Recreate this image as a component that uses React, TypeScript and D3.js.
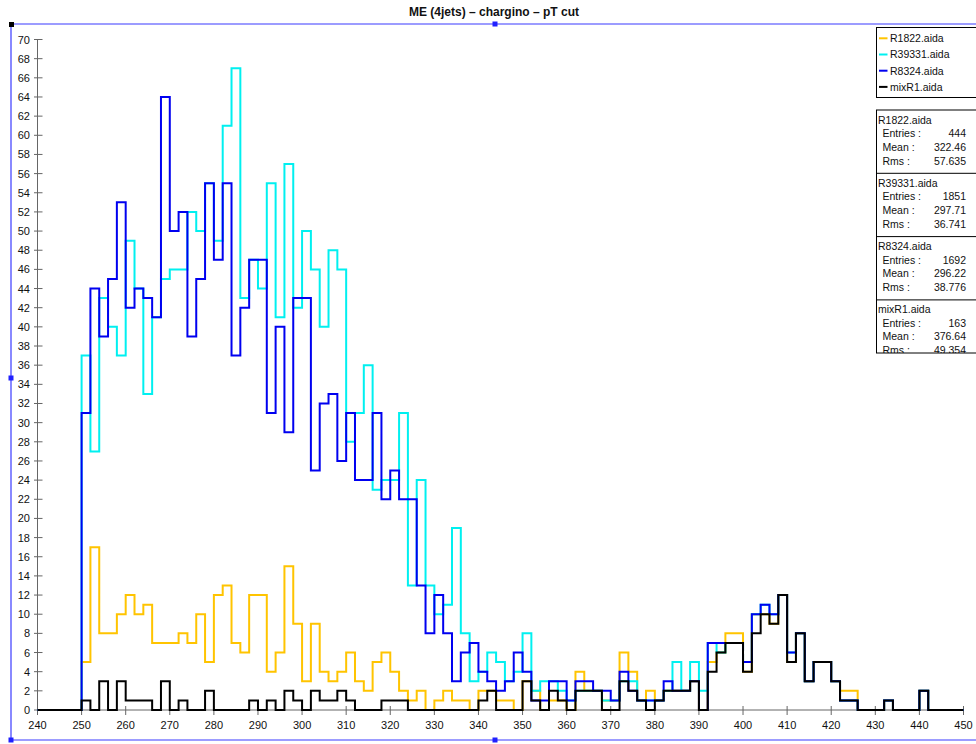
import React from 'react';
import * as d3 from 'd3';

// histogram bins: 240..450, width 2 (first five bins empty)
const BIN_START = 240;
const BIN_WIDTH = 2;

const r1822 = [
  0, 0, 0, 0, 0,
  5, 17, 8, 8, 10, 12, 10, 11, 7, 7, 7, 8, 7, 10, 5, 12, 13, 7, 6, 12,
  12, 4, 6, 15, 9, 3, 9, 4, 3, 4, 6, 3, 2, 5, 6, 4, 2, 1, 2, 0,
  1, 2, 1, 1, 0, 2, 2, 1, 1, 0, 3, 2, 0, 1, 1, 0, 4, 2, 2, 1,
  1, 6, 4, 1, 2, 1, 2, 2, 2, 3, 0, 5, 6, 8, 8, 4, 10, 10, 9, 12,
  5, 8, 3, 5, 5, 3, 2, 2, 0, 0, 0, 1, 0, 0, 0, 2, 0, 0, 0, 0,
];

const r39331 = [
  0, 0, 0, 0, 0,
  37, 27, 43, 40, 37, 49, 44, 33, 41, 45, 46, 46, 52, 50, 55, 49, 61, 67, 43, 47,
  44, 55, 41, 57, 42, 50, 46, 40, 48, 46, 28, 31, 36, 23, 24, 24, 31, 13, 24, 13,
  10, 11, 19, 8, 3, 4, 6, 5, 3, 4, 8, 2, 3, 3, 2, 1, 2, 2, 2, 1,
  1, 3, 3, 1, 1, 1, 2, 5, 2, 5, 2, 7, 6, 7, 7, 5, 10, 11, 10, 12,
  6, 8, 3, 5, 5, 3, 1, 1, 0, 0, 0, 1, 0, 0, 0, 2, 0, 0, 0, 0,
];

const r8324 = [
  0, 0, 0, 0, 0,
  31, 44, 39, 45, 53, 42, 44, 43, 41, 64, 50, 52, 39, 45, 55, 47, 55, 37, 42, 47,
  47, 31, 40, 29, 43, 43, 25, 32, 33, 26, 31, 24, 24, 31, 22, 25, 22, 22, 13, 8,
  12, 8, 3, 6, 7, 4, 3, 2, 3, 6, 4, 1, 1, 3, 3, 1, 3, 3, 2, 2,
  1, 4, 2, 1, 1, 1, 3, 2, 2, 3, 0, 7, 7, 7, 7, 5, 10, 11, 10, 12,
  6, 8, 3, 5, 5, 3, 1, 1, 0, 0, 0, 1, 0, 0, 0, 2, 0, 0, 0, 0,
];

const mixR1 = [
  0, 0, 0, 0, 0,
  1, 0, 3, 0, 3, 1, 1, 1, 0, 3, 0, 1, 0, 0, 2, 0, 0, 0, 0, 1,
  0, 1, 0, 2, 1, 0, 2, 1, 1, 2, 1, 0, 0, 0, 1, 1, 1, 0, 0, 0,
  0, 0, 0, 0, 0, 1, 2, 0, 0, 0, 3, 1, 0, 2, 1, 0, 2, 2, 2, 0,
  0, 3, 2, 1, 0, 1, 2, 2, 2, 3, 0, 4, 6, 7, 7, 4, 8, 10, 9, 12,
  5, 8, 3, 5, 5, 3, 1, 1, 0, 0, 0, 1, 0, 0, 0, 2, 0, 0, 0, 0,
];

const seriesNames = ['R1822.aida', 'R39331.aida', 'R8324.aida', 'mixR1.aida'];
const seriesColors = ['#ffc400', '#00f0f0', '#0000f0', '#000000'];
const seriesValues = [r1822, r39331, r8324, mixR1];
const entries = ['444', '1851', '1692', '163'];
const means = ['322.46', '297.71', '296.22', '376.64'];
const rmss = ['57.635', '36.741', '38.776', '49.354'];

const xTicks = d3.range(240, 451, 10);
const yTicks = d3.range(0, 71, 2);

const FONT = '"Liberation Sans", Arial, Helvetica, sans-serif';

const App = () => {
  const width = 976;
  const height = 744;

  const x = d3.scaleLinear().domain([240, 450]).range([37.5, 963.5]);
  const y = d3.scaleLinear().domain([0, 70]).range([710, 39.5]);

  const line = d3.line<[number, number]>()
    .x(d => x(d[0]))
    .y(d => y(d[1]))
    .curve(d3.curveStepAfter);

  const toPoints = (vals: number[]): [number, number][] => {
    const pts: [number, number][] = vals.map((v, i) => [BIN_START + i * BIN_WIDTH, v]);
    pts.push([BIN_START + vals.length * BIN_WIDTH, vals[vals.length - 1]]);
    return pts;
  };

  const statsTop = 110;
  const statsH = 63.3;
  const statsBottom = 353;

  return (
    <svg width={width} height={height} style={{ position: 'absolute', left: 0, top: 0, background: '#fff' }}
      fontFamily={FONT}>
      <defs>
        <clipPath id="statsClip">
          <rect x={870} y={statsTop - 1} width={120} height={statsBottom - statsTop + 1} />
        </clipPath>
      </defs>

      {/* title */}
      <text x={494} y={16} textAnchor="middle" fontSize={12} fontWeight="bold" fill="#111">
        ME (4jets) – chargino – pT cut
      </text>

      {/* frame */}
      <g stroke="#3a3aff" strokeWidth={1.2} fill="none">
        <line x1={11} y1={24} x2={976} y2={24} />
        <line x1={11} y1={24} x2={11} y2={740} />
        <line x1={11} y1={740} x2={976} y2={740} />
      </g>
      <rect x={9} y={22} width={5} height={5} fill="#000" />
      {[[495, 24], [11, 378], [11, 740], [495, 740]].map(([hx, hy], i) => (
        <rect key={i} x={hx - 2.5} y={hy - 2.5} width={5} height={5} fill="#2020ff" />
      ))}

      {/* y axis */}
      <g stroke="#666" strokeWidth={1}>
        <line x1={x(240)} y1={y(70)} x2={x(240)} y2={y(0)} />
        {yTicks.map(t => (
          <line key={t} x1={x(240) - 3.5} x2={x(240) + 5} y1={y(t)} y2={y(t)} />
        ))}
      </g>
      <g fontSize={11} fill="#111" textAnchor="end">
        {yTicks.map(t => (
          <text key={t} x={30} y={y(t) + 4}>{t}</text>
        ))}
      </g>

      {/* x axis */}
      <g stroke="#666" strokeWidth={1}>
        <line x1={x(240)} y1={y(0)} x2={x(450)} y2={y(0)} />
        {xTicks.map(t => (
          <line key={t} x1={x(t)} x2={x(t)} y1={y(0) - 4} y2={y(0) + 5} />
        ))}
      </g>
      <g fontSize={11} fill="#111" textAnchor="middle">
        {xTicks.map(t => (
          <text key={t} x={x(t)} y={729}>{t}</text>
        ))}
      </g>

      {/* histograms */}
      {seriesValues.map((vals, i) => (
        <path key={i} d={line(toPoints(vals)) || ''} fill="none"
          stroke={seriesColors[i]} strokeWidth={2} strokeLinejoin="miter" />
      ))}

      {/* legend */}
      <rect x={876.5} y={27.5} width={120} height={70} fill="#fff" stroke="#000" strokeWidth={1} />
      {seriesNames.map((n, i) => {
        const cy = 38.3 + i * 16.2;
        return (
          <g key={n}>
            <line x1={879} x2={887.5} y1={cy} y2={cy} stroke={seriesColors[i]} strokeWidth={2} />
            <text x={890} y={cy + 3.8} fontSize={10.5} fill="#111">{n}</text>
          </g>
        );
      })}

      {/* stats boxes */}
      <g clipPath="url(#statsClip)">
        <rect x={876.5} y={statsTop} width={120} height={statsBottom - statsTop} fill="#fff" />
        {seriesNames.map((n, i) => {
          const top = statsTop + i * statsH;
          return (
            <g key={n} fontSize={10.5} fill="#111">
              {i > 0 && <line x1={876.5} x2={990} y1={top} y2={top} stroke="#000" strokeWidth={1} />}
              <text x={878} y={top + 13.5}>{n}</text>
              <text x={882.5} y={top + 27}>Entries :</text>
              <text x={966} y={top + 27} textAnchor="end">{entries[i]}</text>
              <text x={882.5} y={top + 40.5}>Mean :</text>
              <text x={966} y={top + 40.5} textAnchor="end">{means[i]}</text>
              <text x={882.5} y={top + 54.5}>Rms :</text>
              <text x={966} y={top + 54.5} textAnchor="end">{rmss[i]}</text>
            </g>
          );
        })}
      </g>
      <rect x={876.5} y={statsTop} width={120} height={statsBottom - statsTop} fill="none" stroke="#000" strokeWidth={1} />
    </svg>
  );
};

export default App;
